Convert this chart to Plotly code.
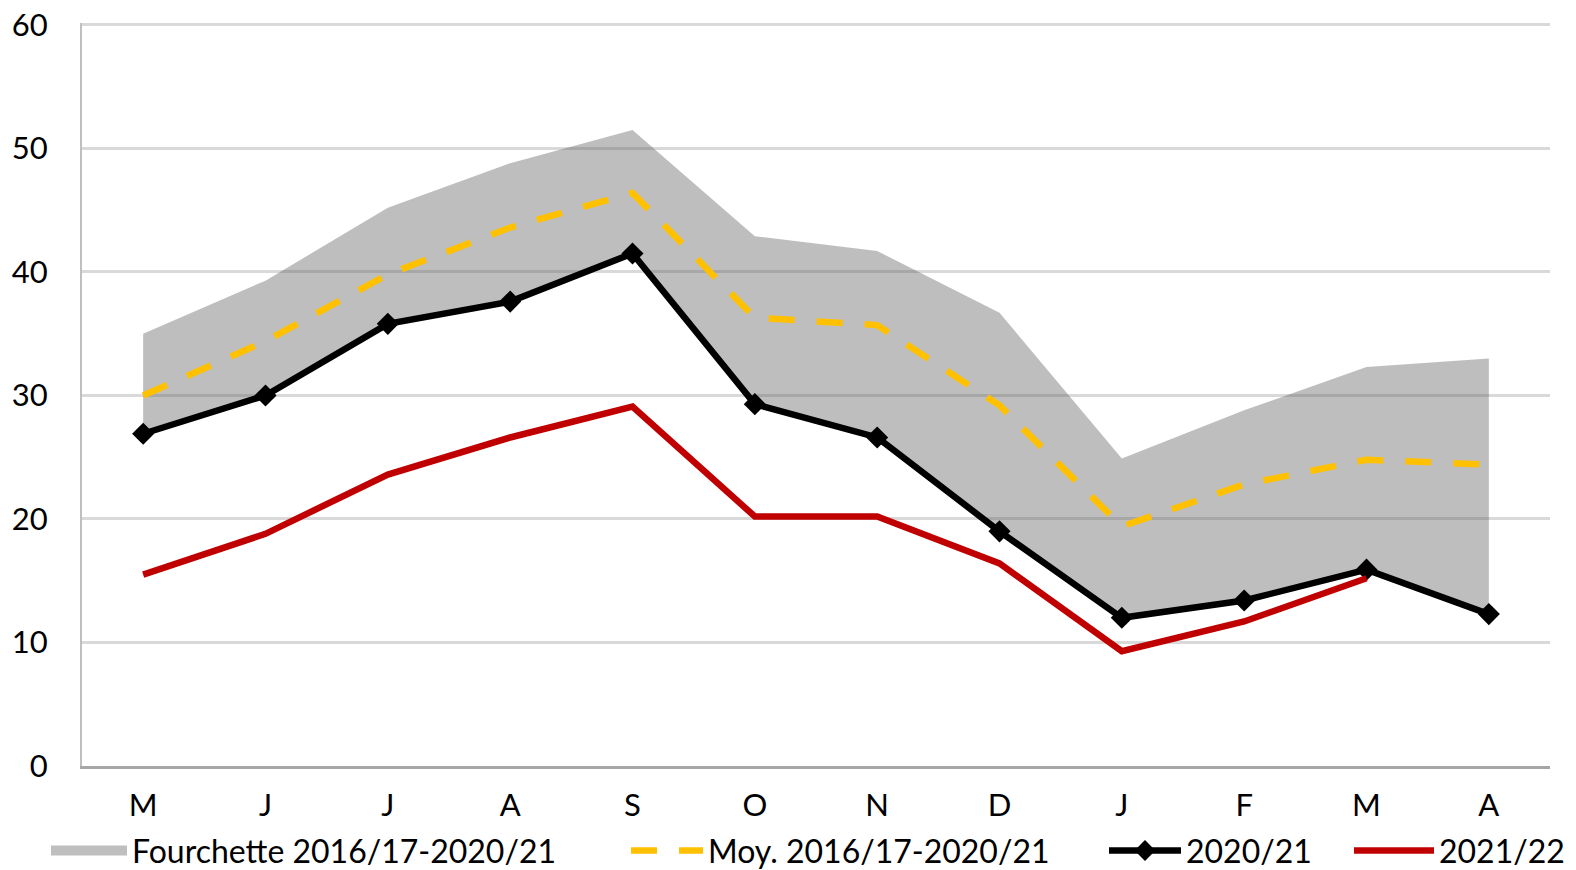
import plotly.graph_objects as go

months = ["M", "J", "J", "A", "S", "O", "N", "D", "J", "F", "M", "A"]
keys = [f"{m}{i}" for i, m in enumerate(months)]
y_ticks = [0, 10, 20, 30, 40, 50, 60]

band_upper = [35.0, 39.3, 45.2, 48.8, 51.5, 42.9, 41.7, 36.7, 24.9, 28.8, 32.3, 33.0]
band_lower = [27.0, 30.0, 35.8, 37.6, 41.5, 29.3, 26.6, 19.0, 12.1, 13.4, 15.9, 12.4]
moy = [30.0, 34.4, 39.8, 43.6, 46.4, 36.3, 35.7, 29.2, 19.4, 22.8, 24.8, 24.4]
s2021 = [26.9, 30.0, 35.8, 37.6, 41.5, 29.3, 26.6, 19.0, 12.0, 13.4, 15.9, 12.3]
s2122 = [15.5, 18.8, 23.6, 26.6, 29.1, 20.2, 20.2, 16.4, 9.3, 11.7, 15.2]

FONT = "Lato"
# the page has an 8px body margin, so the figure is sized/offset to compensate
FIG_W, FIG_H = 1568, 862
L, R, T, B = 74, 26, 15, 104
W = FIG_W - L - R


def lx(fig_px):
    return (fig_px - L) / W


fig = go.Figure()
fig.add_trace(go.Scatter(x=keys, y=band_lower, mode="lines", line=dict(width=0),
                         showlegend=False, hoverinfo="skip"))
fig.add_trace(go.Scatter(x=keys, y=band_upper, mode="lines", line=dict(width=0),
                         fill="tonexty", fillcolor="rgba(93,93,93,0.4)",
                         showlegend=False, name="Fourchette 2016/17-2020/21"))
# legend swatch for the band
fig.add_trace(go.Scatter(x=[None], y=[None], mode="lines",
                         line=dict(color="#BFBFBF", width=20),
                         name="Fourchette 2016/17-2020/21", legend="legend"))
fig.add_trace(go.Scatter(x=keys, y=moy, mode="lines",
                         line=dict(color="#FFC000", width=6.5, dash="26px,22px"),
                         name="Moy. 2016/17-2020/21", legend="legend2"))
fig.add_trace(go.Scatter(x=keys, y=s2021, mode="lines+markers",
                         line=dict(color="#000000", width=6.5),
                         marker=dict(symbol="diamond", size=17, color="#000000"),
                         name="2020/21", legend="legend3"))
fig.add_trace(go.Scatter(x=keys[:len(s2122)], y=s2122, mode="lines",
                         line=dict(color="#C00000", width=6.5),
                         name="2021/22", legend="legend4"))

leg_common = dict(orientation="h", y=-0.077, yanchor="top",
                  font=dict(family=FONT, size=32, color="#000000"),
                  bgcolor="rgba(0,0,0,0)")

fig.update_layout(
    width=FIG_W, height=FIG_H,
    margin=dict(l=L, r=R, t=T, b=B, autoexpand=False),
    paper_bgcolor="white", plot_bgcolor="white",
    font=dict(family=FONT, size=31, color="#000000"),
    legend=dict(x=lx(38), xanchor="left", itemwidth=76, **leg_common),
    legend2=dict(x=lx(618), xanchor="left", itemwidth=72, **leg_common),
    legend3=dict(x=lx(1096), xanchor="left", itemwidth=72, **leg_common),
    legend4=dict(x=lx(1341), xanchor="left", itemwidth=80, **leg_common),
    xaxis=dict(type="category", tickvals=keys, ticktext=months, showgrid=False,
               showline=True, linecolor="#A6A6A6", linewidth=3, ticks="",
               tickfont=dict(size=31), range=[-0.5, 11.5], automargin=False,
               ticklabelstandoff=10, ticklabeloverflow="allow"),
    yaxis=dict(range=[0, 60.16], tickmode="array", tickvals=y_ticks,
               showgrid=True, gridcolor="#D9D9D9", gridwidth=3,
               showline=True, linecolor="#BFBFBF", linewidth=2, ticks="",
               tickfont=dict(size=31), zeroline=False, automargin=False,
               ticklabelstandoff=26, ticklabeloverflow="allow"),
)

fig.write_html("out.html")
